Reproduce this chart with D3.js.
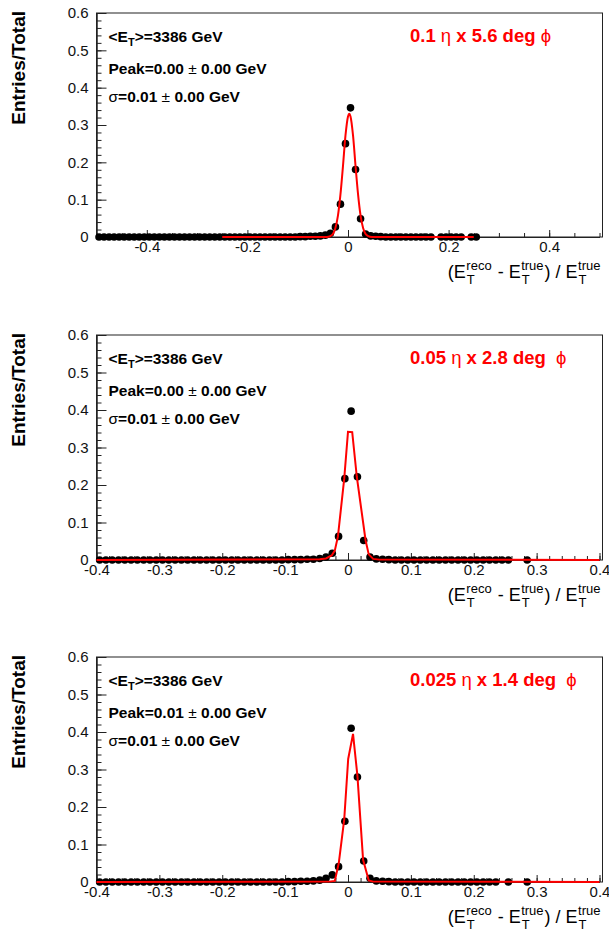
<!DOCTYPE html>
<html>
<head>
<meta charset="utf-8">
<script src="https://cdn.jsdelivr.net/npm/d3@7"></script>
<style>
body { margin: 0; background: #fff; }
text { font-family: "Liberation Sans", Arial, Helvetica, sans-serif; }
</style>
</head>
<body>
<svg id="chart"></svg>
<script>
var width = 609
var height = 935

// axis ticks
var yTicks = [0, 0.1, 0.2, 0.3, 0.4, 0.5, 0.6]
var yTickLabels = ['0', '0.1', '0.2', '0.3', '0.4', '0.5', '0.6']
var xTicksWide = [-0.4, -0.2, 0, 0.2, 0.4]
var xTickLabelsWide = ['-0.4', '-0.2', '0', '0.2', '0.4']
var xTicksNarrow = [-0.4, -0.3, -0.2, -0.1, 0, 0.1, 0.2, 0.3, 0.4]
var xTickLabelsNarrow = ['-0.4', '-0.3', '-0.2', '-0.1', '0', '0.1', '0.2', '0.3', '0.4']

// histogram bins (width 0.01), null = bin not drawn
var binWidth = 0.01
var binStart1 = -0.495
var values1 = [
  0, 0, 0, 0, 0, 0, 0, 0, 0, 0,
  0, 0, 0, 0, 0, 0, 0, 0, 0, 0,
  0, 0, 0, 0, 0, 0, 0, 0, 0, 0,
  0, 0, 0, 0, 0, 0, 0, 0, 0, 0,
  0.001, 0.001, 0.002, 0.002, 0.003, 0.005, 0.01, 0.027, 0.088, 0.25,
  0.346, 0.181, 0.049, 0.008, 0.003, 0.002, 0.001, 0, 0, 0,
  0, 0, 0, 0, 0, 0, 0, null, 0, 0,
  0, 0, 0, null, 0, 0
]
var binStart2 = -0.395
var values2 = [
  0, 0, 0, 0, 0, 0, 0, 0, 0, 0,
  0, 0, 0, 0, 0, 0, 0, 0, 0, 0,
  0, 0, 0, 0, 0, 0, 0, 0, 0, 0,
  0.001, 0.001, 0.001, 0.002, 0.002, 0.004, 0.008, 0.018, 0.063, 0.217,
  0.397, 0.222, 0.052, 0.008, 0.003, 0.002, 0.001, 0, 0, 0,
  0, 0, 0, 0, 0, 0, 0, 0, 0, 0,
  0, 0, 0, 0, 0, 0, null, null, 0
]
var binStart3 = -0.395
var values3 = [
  0, 0, 0, 0, 0, 0, 0, 0, 0, 0,
  0, 0, 0, 0, 0, 0, 0, 0, 0, 0,
  0, 0, 0, 0, 0, 0, 0, 0, 0, 0,
  0.001, 0.001, 0.002, 0.002, 0.003, 0.005, 0.01, 0.019, 0.041, 0.162,
  0.41, 0.28, 0.056, 0.01, 0.003, 0.002, 0.001, 0, 0, 0,
  0, 0, 0, 0, 0, 0, 0, 0, 0, 0,
  0, 0, 0, 0, null, 0, null, null, 0
]

// fitted curves
var fitX1 = [-0.25, -0.0425, -0.035, -0.03, -0.025, -0.02, -0.015, -0.01, -0.005, 0, 0.0025, 0.005, 0.01, 0.015, 0.02, 0.025, 0.03, 0.035, 0.04, 0.0475, 0.25]
var fitY1 = [0, 0, 0.0025, 0.008, 0.024, 0.057, 0.114, 0.19, 0.272, 0.323, 0.33, 0.323, 0.272, 0.19, 0.114, 0.057, 0.024, 0.008, 0.0025, 0, 0]
var fitX2 = [-0.4, -0.045, -0.035, -0.026, -0.021, -0.016, -0.006, 0, 0.0067, 0.014, 0.028, 0.033, 0.04, 0.05, 0.4]
var fitY2 = [0, 0.002, 0.004, 0.012, 0.025, 0.063, 0.217, 0.342, 0.341, 0.222, 0.052, 0.015, 0.003, 0.001, 0]
var fitX3 = [-0.4, -0.03, -0.021, -0.0147, -0.006, 0.0003, 0.008, 0.015, 0.024, 0.033, 0.04, 0.4]
var fitY3 = [0, 0.001, 0.003, 0.05, 0.167, 0.328, 0.395, 0.283, 0.059, 0.004, 0.001, 0]

// panel texts
var meanET = ['3386', '3386', '3386']
var peakVal = ['0.00', '0.00', '0.01']
var sigmaVal = ['0.01', '0.01', '0.01']
var cellEta = ['0.1', '0.05', '0.025']
var cellPhi = ['5.6', '2.8', '1.4']
var phiGap = [' ', '  ', '  ']

var svg = d3.select('#chart').attr('width', width).attr('height', height)

var panels = [
  {top: 13, bottom: 237, xDom: [-0.5, 0.5], ticks: xTicksWide, labels: xTickLabelsWide, minor: 0.05,
    start: binStart1, values: values1, fx: fitX1, fy: fitY1},
  {top: 335, bottom: 560, xDom: [-0.4, 0.4], ticks: xTicksNarrow, labels: xTickLabelsNarrow, minor: 0.02,
    start: binStart2, values: values2, fx: fitX2, fy: fitY2},
  {top: 657, bottom: 882, xDom: [-0.4, 0.4], ticks: xTicksNarrow, labels: xTickLabelsNarrow, minor: 0.02,
    start: binStart3, values: values3, fx: fitX3, fy: fitY3}
]
var left = 96.5
var right = 599.5
var frameRight = 602.5

panels.forEach(function (p, k) {
  var x = d3.scaleLinear().domain(p.xDom).range([left, right])
  var y = d3.scaleLinear().domain([0, 0.6]).range([p.bottom, p.top])
  var g = svg.append('g')

  // frame
  g.append('rect').attr('x', left).attr('y', p.top)
    .attr('width', frameRight - left).attr('height', p.bottom - p.top)
    .attr('fill', 'none').attr('stroke', '#222').attr('stroke-width', 1)

  // minor ticks
  var yMinor = d3.range(0, 0.6001, 0.02)
  g.append('g').attr('transform', 'translate(' + left + ',0)')
    .call(d3.axisLeft(y).tickValues(yMinor).tickSizeInner(-5).tickSizeOuter(0).tickFormat(''))
  var xMinor = d3.range(p.xDom[0], p.xDom[1] + 1e-6, p.minor)
  g.append('g').attr('transform', 'translate(0,' + p.bottom + ')')
    .call(d3.axisBottom(x).tickValues(xMinor).tickSizeInner(-4).tickSizeOuter(0).tickFormat(''))

  // major ticks + labels
  g.append('g').attr('class', 'yaxis').attr('transform', 'translate(' + left + ',0)')
    .call(d3.axisLeft(y).tickValues(yTicks).tickSizeInner(-10).tickSizeOuter(0).tickPadding(8)
      .tickFormat(function (d, i) { return yTickLabels[i] }))
  g.append('g').attr('class', 'xaxis').attr('transform', 'translate(0,' + p.bottom + ')')
    .call(d3.axisBottom(x).tickValues(p.ticks).tickSizeInner(-7).tickSizeOuter(0).tickPadding(4)
      .tickFormat(function (d, i) { return p.labels[i] }))
  g.selectAll('.domain').attr('stroke', '#222')
  g.selectAll('.tick line').attr('stroke', '#222')
  g.selectAll('.tick text').attr('font-size', '15px').attr('fill', '#111')
    .style('font-family', '"Liberation Sans", Arial, sans-serif')

  // points
  var pts = p.values.map(function (v, i) { return {x: p.start + i * binWidth, y: v} })
    .filter(function (d) { return d.y !== null })
  g.append('g').selectAll('circle').data(pts).enter().append('circle')
    .attr('cx', function (d) { return x(d.x) })
    .attr('cy', function (d) { return y(d.y) })
    .attr('r', 3.8)
    .attr('fill', '#000')

  // fit
  var fit = p.fx.map(function (v, i) { return [v, p.fy[i]] })
  var line = d3.line()
    .x(function (d) { return x(d[0]) })
    .y(function (d) { return y(d[1]) })
    .curve(k === 0 ? d3.curveMonotoneX : d3.curveLinear)
  g.append('path').datum(fit).attr('d', line)
    .attr('fill', 'none').attr('stroke', '#ff0000').attr('stroke-width', 2)

  // y title
  g.append('text').attr('transform', 'translate(25,' + (p.top - 2) + ') rotate(-90)')
    .attr('text-anchor', 'end').attr('font-size', '19px').attr('font-weight', 'bold')
    .text('Entries/Total')

  // info lines
  var tx = left + 12
  var t1 = g.append('text').attr('x', tx).attr('y', p.top + 29)
    .attr('font-size', '15.5px').attr('font-weight', 'bold')
  t1.append('tspan').text('<E')
  t1.append('tspan').attr('dy', 4).attr('font-size', '11px').text('T')
  t1.append('tspan').attr('dy', -4).text('>=' + meanET[k] + ' GeV')

  var t2 = g.append('text').attr('x', tx).attr('y', p.top + 61)
    .attr('font-size', '15.5px').attr('font-weight', 'bold')
  t2.append('tspan').text('Peak=' + peakVal[k] + ' ')
  t2.append('tspan').attr('font-weight', 'normal').text('\u00b1')
  t2.append('tspan').text(' ' + '0.00 GeV')

  var t3 = g.append('text').attr('x', tx).attr('y', p.top + 89)
    .attr('font-size', '15.5px').attr('font-weight', 'bold')
  t3.append('tspan').attr('font-weight', 'normal').text('\u03c3')
  t3.append('tspan').text('=' + sigmaVal[k] + ' ')
  t3.append('tspan').attr('font-weight', 'normal').text('\u00b1')
  t3.append('tspan').text(' 0.00 GeV')

  // cell size label
  var lab = g.append('text').attr('x', 410).attr('y', p.top + 29)
    .attr('font-size', '18.5px').attr('font-weight', 'bold').attr('fill', '#ff0000')
    .style('white-space', 'pre')
  lab.append('tspan').text(cellEta[k] + ' ')
  lab.append('tspan').attr('font-weight', 'normal').text('\u03b7')
  lab.append('tspan').text(' x ' + cellPhi[k] + ' deg' + phiGap[k])
  lab.append('tspan').attr('font-weight', 'normal').text('\u03d5')

  // x title: (E_T^reco - E_T^true) / E_T^true
  var tg = g.append('g')
  var base = p.bottom + 41
  var cx = 0
  var pieces = [['(E', 'reco'], [' - E', 'true'], [') / E', 'true']]
  pieces.forEach(function (pc) {
    var m = tg.append('text').attr('x', cx).attr('y', base).attr('font-size', '18px')
      .style('white-space', 'pre').text(pc[0])
    cx += m.node().getComputedTextLength() + 0.5
    var sup = tg.append('text').attr('x', cx).attr('y', base - 8).attr('font-size', '13px').text(pc[1])
    tg.append('text').attr('x', cx + 0.5).attr('y', base + 6).attr('font-size', '13px').text('T')
    cx += sup.node().getComputedTextLength() + 1
  })
  tg.attr('transform', 'translate(' + (frameRight - 1 - cx) + ',0)')
})
</script>
</body>
</html>
